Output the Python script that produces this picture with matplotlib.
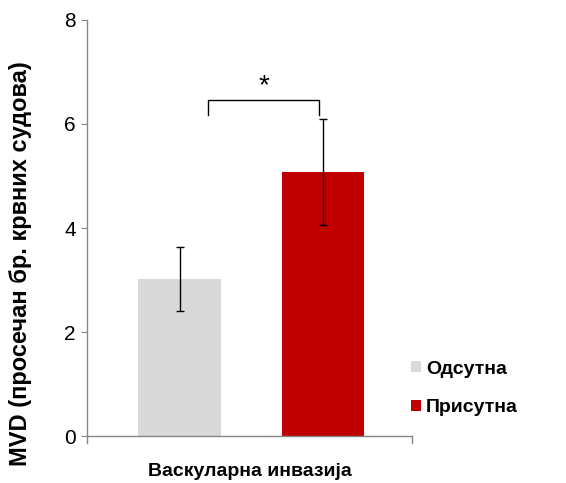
import matplotlib.pyplot as plt
from matplotlib.patches import Patch

categories = ["Одсутна", "Присутна"]
mvd_mean = [3.02, 5.08]
mvd_err = [0.61, 1.02]
colors = ["#d9d9d9", "#c00000"]
y_ticks = [0, 2, 4, 6, 8]

plt.rcParams['font.family'] = ['Liberation Sans', 'DejaVu Sans']

fig = plt.figure(figsize=(5.66, 4.83), dpi=100)
ax = fig.add_axes([0.1537, 0.0973, 0.5742, 0.8613])

x = [0, 1]
ax.bar(x, mvd_mean, width=0.578, color=colors, yerr=mvd_err,
       error_kw=dict(ecolor="black", elinewidth=1, capsize=3, capthick=1))

ax.set_xlim(-0.645, 1.62)
ax.set_ylim(0, 8)
ax.set_yticks(y_ticks)
ax.set_yticklabels([str(t) for t in y_ticks], fontsize=15)
ax.set_xticks([])

for side in ["top", "right"]:
    ax.spines[side].set_visible(False)
for side in ["left", "bottom"]:
    ax.spines[side].set_color("#868686")
    ax.spines[side].set_linewidth(1)
ax.tick_params(axis="y", direction="out", length=4, color="#868686", pad=4)

# end ticks on the x axis
ax.plot([-0.645, -0.645], [0, -0.13], color="#868686", lw=1, clip_on=False)
ax.plot([1.62, 1.62], [0, -0.13], color="#868686", lw=1, clip_on=False)

fig.text(21 / 566, 1 - 264 / 483, "MVD (просечан бр. крвних судова)", rotation=90,
         ha="center", va="center", fontsize=17, fontweight="bold")
fig.text(250 / 566, 1 - 471 / 483, "Васкуларна инвазија", ha="center", va="center",
         fontsize=14, fontweight="bold")

# significance bracket
bx0, bx1, by, bh = 0.2, 0.975, 6.46, 0.29
ax.plot([bx0, bx0, bx1, bx1], [by - bh, by, by, by - bh], color="black", lw=1)
ax.text((bx0 + bx1) / 2, 6.72, "*", ha="center", va="center", fontsize=20)

handles = [Patch(facecolor=c, edgecolor="none") for c in colors]
leg = fig.legend(handles, categories, loc="center left", bbox_to_anchor=(0.696, 0.196),
                 frameon=False, handlelength=0.5, handleheight=0.5, handletextpad=0.25,
                 labelspacing=1.1, prop=dict(size=14, weight="bold"))

fig.savefig("out.png", dpi=100)
